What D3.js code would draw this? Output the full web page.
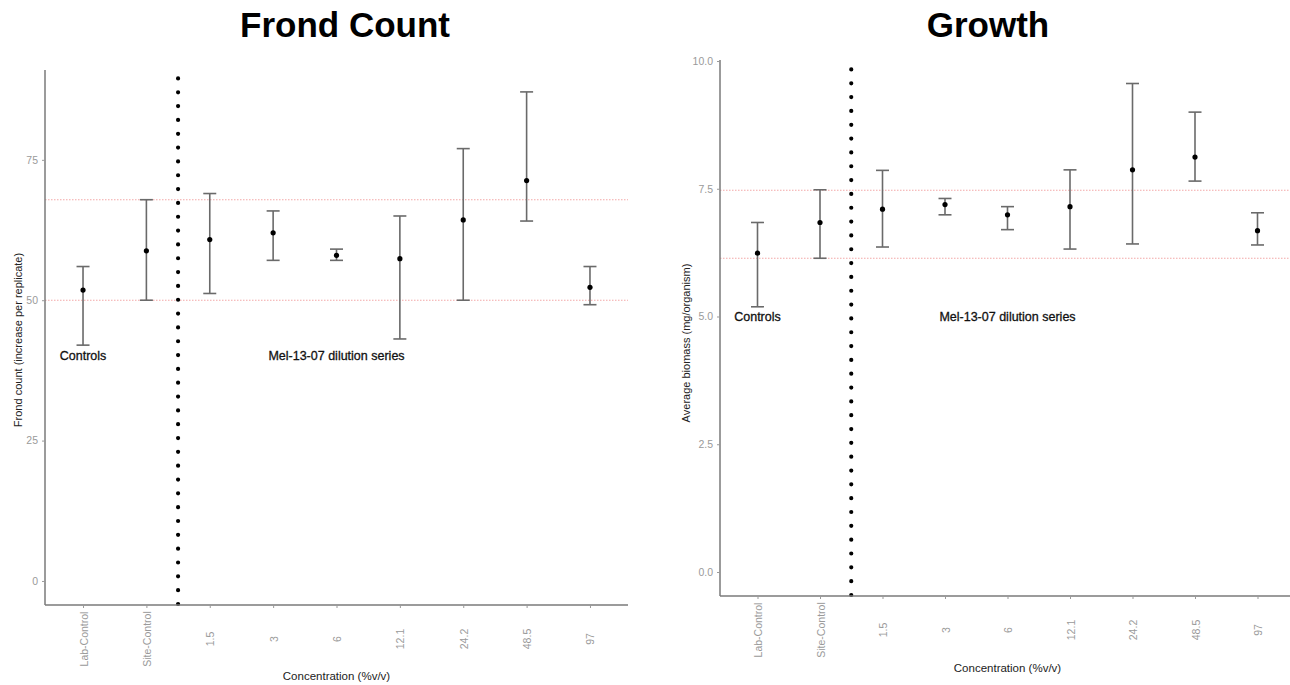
<!DOCTYPE html>
<html>
<head>
<meta charset="utf-8">
<script src="https://cdn.jsdelivr.net/npm/d3@7"></script>
<style>
  html, body { margin: 0; padding: 0; background: #fff; }
  svg { display: block; font-family: "Liberation Sans", Arial, sans-serif; }
</style>
</head>
<body>
<svg id="chart" width="1290" height="685"></svg>
<script>
// Treatments along the x axis
const categories = ["Lab-Control", "Site-Control", "1.5", "3", "6", "12.1", "24.2", "48.5", "97"];

// Frond count: mean and interval per treatment
const frondMean  = [51.8, 58.8, 60.8, 62.0, 58.0, 57.4, 64.3, 71.3, 52.3];
const frondLower = [42.0, 50.0, 51.2, 57.1, 57.1, 43.1, 50.0, 64.1, 49.2];
const frondUpper = [56.0, 67.9, 69.0, 65.9, 59.1, 65.0, 77.0, 87.1, 56.0];
const frondTicks = [0, 25, 50, 75];
const frondRefLines = [50, 67.9];

// Growth: average biomass per treatment
const biomassMean  = [6.24, 6.84, 7.10, 7.19, 6.99, 7.15, 7.87, 8.12, 6.68];
const biomassLower = [5.19, 6.14, 6.36, 6.99, 6.70, 6.32, 6.42, 7.65, 6.40];
const biomassUpper = [6.84, 7.48, 7.86, 7.31, 7.15, 7.87, 9.56, 9.00, 7.03];
const biomassTicks = [0, 2.5, 5, 7.5, 10];
const biomassRefLines = [6.14, 7.47];

// Group labels
const controlsLabel = "Controls";
const seriesLabel = "Mel-13-07 dilution series";

const svg = d3.select("#chart");

function drawPanel(cfg) {
  const g = svg.append("g");
  const x = d3.scalePoint().domain(categories).range([cfg.left, cfg.right]).padding(0.6);
  const y = d3.scaleLinear().domain(cfg.yDomain).range([cfg.bottom, cfg.top]);

  // Title
  g.append("text")
    .attr("x", cfg.titleX).attr("y", 37)
    .attr("text-anchor", "middle")
    .attr("font-size", 35).attr("font-weight", "bold").attr("fill", "#000")
    .text(cfg.title);

  // Reference band lines
  g.selectAll("line.ref").data(cfg.refLines).enter().append("line")
    .attr("class", "ref")
    .attr("x1", cfg.left).attr("x2", cfg.right)
    .attr("y1", d => y(d)).attr("y2", d => y(d))
    .attr("stroke", "#f08c8c").attr("stroke-width", 1.1)
    .attr("stroke-dasharray", "1.5 1.5").attr("opacity", 0.75);

  // Divider between controls and dilution series
  const xDiv = (x(categories[1]) + x(categories[2])) / 2;
  g.append("line")
    .attr("x1", xDiv).attr("x2", xDiv)
    .attr("y1", cfg.bottom - 1).attr("y2", cfg.top)
    .attr("stroke", "#000").attr("stroke-width", 4.2)
    .attr("stroke-linecap", "round")
    .attr("stroke-dasharray", "0 13.83");

  // Axes
  const yAxis = d3.axisLeft(y).tickValues(cfg.ticks).tickFormat(cfg.tickFormat).tickSize(3).tickPadding(4);
  const ya = g.append("g").attr("transform", `translate(${cfg.left},0)`).call(yAxis);
  ya.select(".domain").attr("d", `M0,${cfg.bottom}V${cfg.top}`).attr("stroke", "#7a7a7a").attr("stroke-width", 1.5);
  ya.selectAll(".tick line").attr("stroke", "#999");
  ya.selectAll(".tick text").attr("fill", "#9a9a9a").attr("font-size", 10.5)
    .attr("font-family", "Liberation Sans, Arial, sans-serif");

  const xAxis = d3.axisBottom(x).tickSize(3).tickPadding(0);
  const xa = g.append("g").attr("transform", `translate(0,${cfg.bottom})`).call(xAxis);
  xa.select(".domain").attr("d", `M${cfg.left},0H${cfg.right}`).attr("stroke", "#7a7a7a").attr("stroke-width", 1.5);
  xa.selectAll(".tick line").attr("stroke", "#999");
  xa.selectAll(".tick text")
    .attr("fill", "#9a9a9a").attr("font-size", 10.5)
    .attr("font-family", "Liberation Sans, Arial, sans-serif")
    .attr("text-anchor", "middle")
    .attr("dy", null)
    .attr("dominant-baseline", "central")
    .attr("transform", "translate(0,34) rotate(-90)")
    .attr("y", 0).attr("x", 0);

  // Axis titles
  g.append("text")
    .attr("x", (cfg.left + cfg.right) / 2).attr("y", cfg.xTitleY)
    .attr("text-anchor", "middle").attr("font-size", 11.5).attr("fill", "#222")
    .text("Concentration (%v/v)");
  g.append("text")
    .attr("transform", `translate(${cfg.yTitleX},${cfg.yTitleY}) rotate(-90)`)
    .attr("text-anchor", "middle").attr("font-size", 11).attr("fill", "#222")
    .text(cfg.yTitle);

  // Error bars and means
  const rows = categories.map((c, i) => ({ c, m: cfg.mean[i], lo: cfg.lower[i], hi: cfg.upper[i] }));
  const bars = g.selectAll("g.bar").data(rows).enter().append("g").attr("class", "bar");
  const cap = 6.5;
  bars.append("line")
    .attr("x1", d => x(d.c)).attr("x2", d => x(d.c))
    .attr("y1", d => y(d.lo)).attr("y2", d => y(d.hi))
    .attr("stroke", "#6a6a6a").attr("stroke-width", 1.6);
  bars.append("line")
    .attr("x1", d => x(d.c) - cap).attr("x2", d => x(d.c) + cap)
    .attr("y1", d => y(d.hi)).attr("y2", d => y(d.hi))
    .attr("stroke", "#6a6a6a").attr("stroke-width", 1.6);
  bars.append("line")
    .attr("x1", d => x(d.c) - cap).attr("x2", d => x(d.c) + cap)
    .attr("y1", d => y(d.lo)).attr("y2", d => y(d.lo))
    .attr("stroke", "#6a6a6a").attr("stroke-width", 1.6);
  bars.append("circle")
    .attr("cx", d => x(d.c)).attr("cy", d => y(d.m))
    .attr("r", 2.6).attr("fill", "#000");

  // Group annotations
  g.append("text")
    .attr("x", x(categories[0])).attr("y", y(cfg.labelValue))
    .attr("text-anchor", "middle").attr("dominant-baseline", "central")
    .attr("font-size", 12.5).attr("fill", "#111")
    .attr("stroke", "#111").attr("stroke-width", 0.3)
    .text(controlsLabel);
  g.append("text")
    .attr("x", x(categories[4])).attr("y", y(cfg.labelValue))
    .attr("text-anchor", "middle").attr("dominant-baseline", "central")
    .attr("font-size", 12.5).attr("fill", "#111")
    .attr("stroke", "#111").attr("stroke-width", 0.3)
    .text(seriesLabel);
}

drawPanel({
  title: "Frond Count", titleX: 345,
  left: 45, right: 628, top: 70, bottom: 605,
  yDomain: [-4.28, 91.0],
  ticks: frondTicks, tickFormat: d3.format("d"),
  refLines: frondRefLines,
  mean: frondMean, lower: frondLower, upper: frondUpper,
  yTitle: "Frond count (increase per replicate)", yTitleX: 22, yTitleY: 340,
  xTitleY: 680,
  labelValue: 40
});

drawPanel({
  title: "Growth", titleX: 988,
  left: 720, right: 1295, top: 60, bottom: 596,
  yDomain: [-0.47, 10.02],
  ticks: biomassTicks, tickFormat: d3.format(".1f"),
  refLines: biomassRefLines,
  mean: biomassMean, lower: biomassLower, upper: biomassUpper,
  yTitle: "Average biomass (mg/organism)", yTitleX: 690, yTitleY: 343,
  xTitleY: 672,
  labelValue: 5
});
</script>
</body>
</html>
